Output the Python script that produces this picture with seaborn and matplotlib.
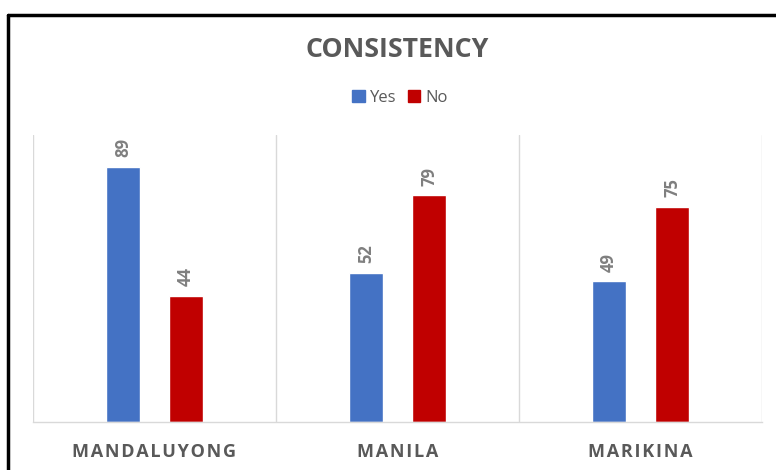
import matplotlib
matplotlib.use("Agg")
import matplotlib.pyplot as plt
import seaborn as sns
import pandas as pd
from matplotlib.lines import Line2D

cities = ["MANDALUYONG", "MANILA", "MARIKINA"]
yes_values = [89, 52, 49]
no_values = [44, 79, 75]
series = ["Yes", "No"]
colors = {"Yes": "#4472C4", "No": "#C00000"}
title = "CONSISTENCY"

rows = []
for c, y, n in zip(cities, yes_values, no_values):
    rows.append({"city": c, "answer": "Yes", "value": y})
    rows.append({"city": c, "answer": "No", "value": n})
df = pd.DataFrame(rows)

sns.set_theme(style="white")
plt.rcParams["font.family"] = ["Open Sans", "DejaVu Sans"]


def spaced(s, sep="\u200a"):
    return sep.join(s)


fig = plt.figure(figsize=(7.76, 4.70), dpi=100)
ax = fig.add_axes([33 / 776, 48 / 470, (762 - 33) / 776, (422 - 135) / 470])

sns.barplot(data=df, x="city", y="value", hue="answer", order=cities,
            hue_order=series, palette=colors, width=0.52, gap=0.46,
            saturation=1, ax=ax, legend=False, errorbar=None)

for cont in ax.containers:
    ax.bar_label(cont, rotation=90, padding=7, color="#7F7F7F",
                 fontsize=12, fontweight="bold")

ax.set_ylim(0, 100)
ax.set_xlim(-0.5, 2.5)
ax.set_yticks([])
ax.set_xlabel("")
ax.set_ylabel("")
ax.set_xticks(range(len(cities)))
ax.set_xticklabels([spaced(c) for c in cities], fontsize=13, fontweight="bold",
                   color="#595959")
ax.tick_params(axis="x", length=0, pad=15)
ax.set_xticks([-0.5, 0.5, 1.5, 2.5], minor=True)
ax.tick_params(axis="x", which="minor", length=0)
ax.grid(True, axis="x", which="minor", color="#D9D9D9", linewidth=1)
ax.grid(False, axis="x", which="major")
for s in ["top", "left", "right"]:
    ax.spines[s].set_visible(False)
ax.spines["bottom"].set_color("#D9D9D9")
ax.spines["bottom"].set_linewidth(1)

fig.text(397 / 776, 1 - 50 / 470, title, ha="center", va="center",
         fontsize=19.3, fontweight="bold", color="#595959")

handles = [plt.Rectangle((0, 0), 1, 1, color=colors[s]) for s in series]
fig.legend(handles, series, loc="center", bbox_to_anchor=(400 / 776, 1 - 98 / 470),
           ncol=2, frameon=False, fontsize=12, handlelength=0.75, handleheight=0.75,
           handletextpad=0.3, columnspacing=0.7, labelcolor="#595959")

fig.add_artist(Line2D([8 / 776, 1.0], [1 - 15 / 470, 1 - 15 / 470], color="black",
                      linewidth=2.5, transform=fig.transFigure))
fig.add_artist(Line2D([8 / 776, 8 / 776], [0, 1 - 15 / 470], color="black",
                      linewidth=2.5, transform=fig.transFigure))

fig.savefig("out.png", dpi=100, facecolor="white")
